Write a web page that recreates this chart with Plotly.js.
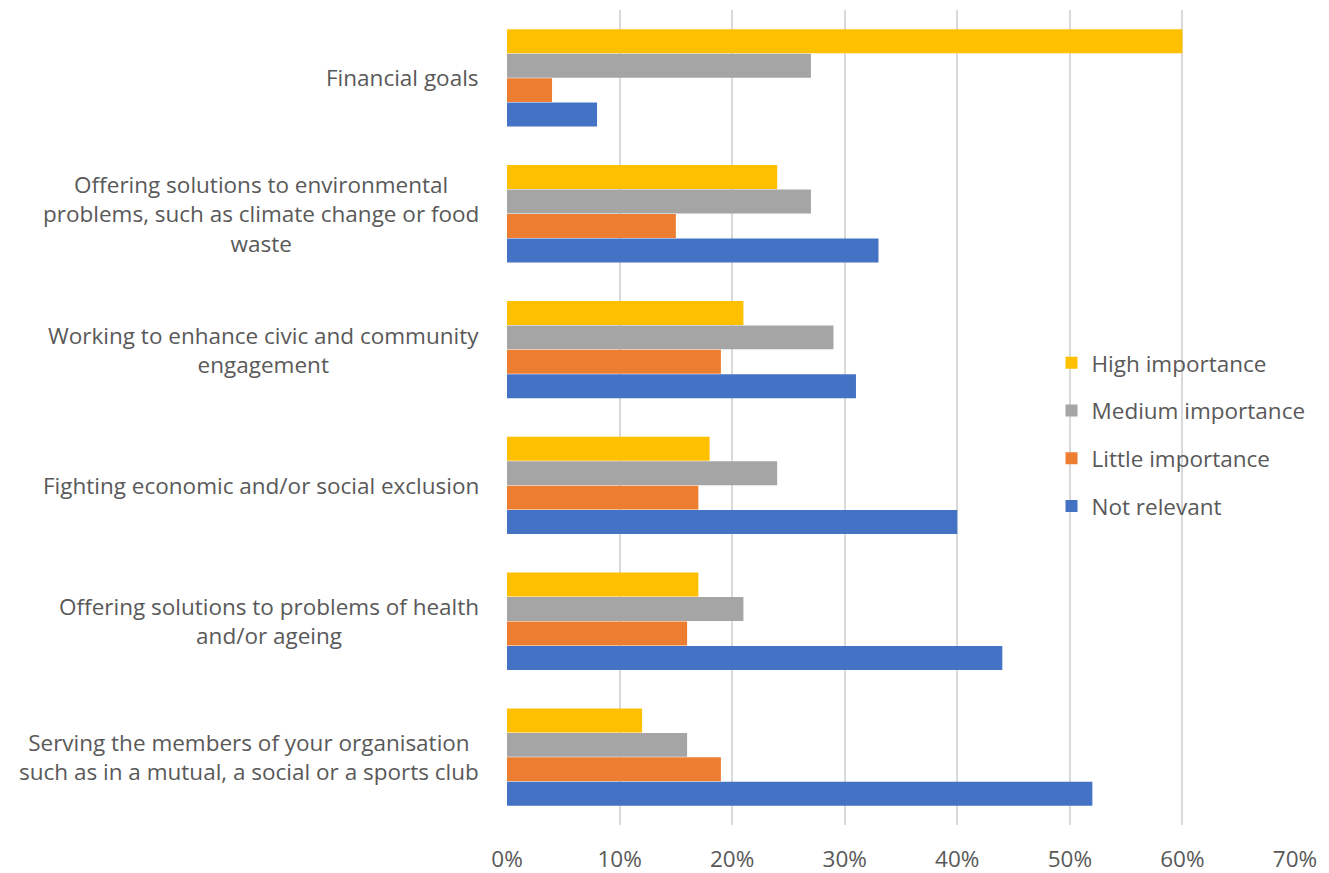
<!DOCTYPE html>
<html>
<head>
<meta charset="utf-8">
<script src="https://cdn.plot.ly/plotly-3.0.1.min.js"></script>
<style>html,body{margin:0;padding:0;background:#fff;}#chart{width:1329px;height:873px;}</style>
</head>
<body>
<div id="chart"></div>
<script>
var categories = [
  "Financial goals",
  "Offering solutions to environmental<br>problems, such as climate change or food<br>waste",
  "Working to enhance civic and community<br>engagement",
  "Fighting economic and/or social exclusion",
  "Offering solutions to problems of health<br>and/or ageing",
  "Serving the members of your organisation<br>such as in a mutual, a social or a sports club"
];
var seriesNames = ["High importance", "Medium importance", "Little importance", "Not relevant"];
var highImportance   = [60, 24, 21, 18, 17, 12];
var mediumImportance = [27, 27, 29, 24, 21, 16];
var littleImportance = [4, 15, 19, 17, 16, 19];
var notRelevant      = [8, 33, 31, 40, 44, 52];
var xTickValues = [0, 10, 20, 30, 40, 50, 60, 70];
var xTickLabels = ["0%", "10%", "20%", "30%", "40%", "50%", "60%", "70%"];

var colors = ["#FFC000", "#A5A5A5", "#ED7D31", "#4472C4"];
var allSeries = [highImportance, mediumImportance, littleImportance, notRelevant];
var textColor = "#595959";
var fontFamily = "Open Sans, Noto Sans, sans-serif";

var traces = allSeries.map(function (vals, i) {
  return {
    type: "bar",
    orientation: "h",
    name: seriesNames[i],
    x: vals,
    y: categories,
    marker: { color: colors[i] },
    legendgroup: "g" + i,
    hoverinfo: "x+name"
  };
});

var annotations = categories.map(function (c) {
  return {
    xref: "paper", yref: "y",
    x: -0.033, y: c,
    xanchor: "right", yanchor: "middle",
    text: c, showarrow: false, align: "center",
    font: { family: fontFamily, size: 22.5, color: textColor }
  };
});

var layout = {
  width: 1329, height: 873,
  margin: { l: 507, r: 34, t: 10, b: 48 },
  paper_bgcolor: "#fff", plot_bgcolor: "#fff",
  barmode: "group",
  bargap: 0.28,
  bargroupgap: 0.02,
  font: { family: fontFamily, color: textColor, size: 22.5 },
  xaxis: {
    range: [0, 70],
    tickmode: "array",
    tickvals: xTickValues,
    ticktext: xTickLabels,
    showgrid: true, gridcolor: "#D9D9D9", gridwidth: 2,
    zeroline: false, showline: false,
    ticks: "outside", ticklen: 14, tickcolor: "rgba(0,0,0,0)",
    tickfont: { family: fontFamily, size: 22.5, color: textColor },
    fixedrange: true
  },
  yaxis: {
    type: "category",
    autorange: "reversed",
    showticklabels: false,
    showgrid: false, zeroline: false, showline: false, ticks: ""
  },
  showlegend: true,
  legend: {
    x: 0.691, xanchor: "left",
    y: 0.479, yanchor: "middle",
    bgcolor: "rgba(0,0,0,0)",
    traceorder: "grouped",
    tracegroupgap: 15.5,
    font: { family: fontFamily, size: 22.5, color: textColor },
    itemwidth: 30
  },
  annotations: annotations
};

Plotly.newPlot("chart", traces, layout, { displayModeBar: false, staticPlot: true });
</script>
</body>
</html>
